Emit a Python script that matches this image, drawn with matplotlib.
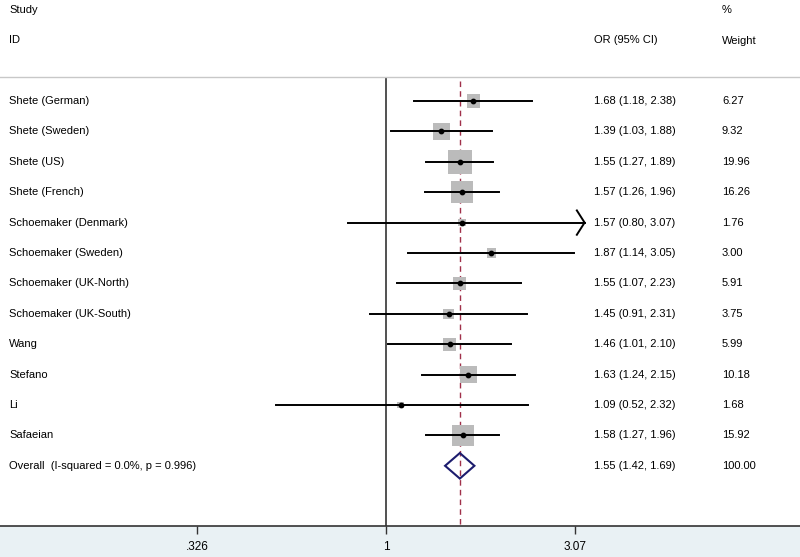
import numpy as np
import matplotlib
matplotlib.use("Agg")
import matplotlib.pyplot as plt
from matplotlib.patches import Rectangle, Polygon

plt.rcParams['font.family'] = ['Liberation Sans', 'DejaVu Sans']
plt.rcParams['text.hinting'] = 'auto'

studies = ["Shete (German)", "Shete (Sweden)", "Shete (US)", "Shete (French)",
           "Schoemaker (Denmark)", "Schoemaker (Sweden)", "Schoemaker (UK-North)",
           "Schoemaker (UK-South)", "Wang", "Stefano", "Li", "Safaeian"]
or_val = [1.68, 1.39, 1.55, 1.57, 1.57, 1.87, 1.55, 1.45, 1.46, 1.63, 1.09, 1.58]
ci_lo = [1.18, 1.03, 1.27, 1.26, 0.80, 1.14, 1.07, 0.91, 1.01, 1.24, 0.52, 1.27]
ci_hi = [2.38, 1.88, 1.89, 1.96, 3.07, 3.05, 2.23, 2.31, 2.10, 2.15, 2.32, 1.96]
weights = [6.27, 9.32, 19.96, 16.26, 1.76, 3.00, 5.91, 3.75, 5.99, 10.18, 1.68, 15.92]
overall_label = "Overall  (I-squared = 0.0%, p = 0.996)"
overall = (1.55, 1.42, 1.69)
xticks = [0.326, 1, 3.07]
xticklabels = [".326", "1", "3.07"]

W, H = 800, 557
fig = plt.figure(figsize=(8, 5.57), dpi=100)
band = Rectangle((0, 0), 1, 31 / H, transform=fig.transFigure,
                 facecolor='#E9F1F4', edgecolor='none', zorder=-5)
fig.patches.append(band)

ax = fig.add_axes([0, 31 / H, 1, (526 - 77) / H])
ax.set_facecolor('white')
ax.set_xscale('log')
x0 = np.exp(-386 / 168.5)
x1 = np.exp((800 - 386) / 168.5)
ax.set_xlim(x0, x1)
row_h = 30.4
ax.set_ylim((526 - 101) / row_h, -(101 - 77) / row_h)

n = len(studies)
rows = np.arange(n)
xclip = 3.25

# null line and overall effect
ax.axvline(1, color='#333333', lw=1.2, zorder=1)
ax.plot([overall[0], overall[0]], [-0.65, 14], color='#A0304A', lw=1.0,
        dashes=(4, 3), zorder=2)

side = 24 * 0.72 * np.sqrt(np.array(weights) / max(weights))
ax.scatter(or_val, rows, marker='s', s=side ** 2, color='#BBBBBB',
           edgecolors='none', zorder=3)

for i in range(n):
    if ci_hi[i] >= 3.07:
        ax.plot([ci_lo[i], xclip], [i, i], color='black', lw=1.4, zorder=4)
        ax.plot([xclip * 0.955, xclip, xclip * 0.955], [i - 0.4, i, i + 0.4],
                color='black', lw=1.4, zorder=4)
    else:
        ax.plot([ci_lo[i], ci_hi[i]], [i, i], color='black', lw=1.4, zorder=4)
ax.scatter(or_val, rows, s=10, color='black', zorder=5)

# overall diamond
oy = n
ax.add_patch(Polygon([(overall[1], oy), (overall[0], oy - 0.42), (overall[2], oy),
                      (overall[0], oy + 0.42)], closed=True, fill=False,
                     edgecolor='#1C1C6E', lw=1.5, zorder=6))

for s in ['left', 'right']:
    ax.spines[s].set_visible(False)
ax.spines['top'].set_color('#C8C8C8')
ax.spines['top'].set_linewidth(1.0)
ax.spines['bottom'].set_color('#333333')
ax.spines['bottom'].set_linewidth(1.2)
ax.set_yticks([])
ax.set_xticks(xticks)
ax.set_xticklabels(xticklabels, fontsize=8.5)
ax.xaxis.set_minor_locator(matplotlib.ticker.NullLocator())
ax.tick_params(axis='x', direction='out', length=6, width=1.0, color='#333333',
               pad=5)

# text columns
fs = 8
trans = ax.get_yaxis_transform()
labels = studies + [overall_label]
or_text = ["%.2f (%.2f, %.2f)" % (o, l, h) for o, l, h in zip(or_val, ci_lo, ci_hi)]
or_text.append("%.2f (%.2f, %.2f)" % overall)
w_text = ["%.2f" % w for w in weights] + ["100.00"]
for i in range(n + 1):
    ax.text(9 / W, i, labels[i], transform=trans, fontsize=fs, va='center', ha='left')
    ax.text(594 / W, i, or_text[i], transform=trans, fontsize=fs, va='center', ha='left')
    ax.text(722 / W, i, w_text[i], transform=trans, fontsize=fs, va='center', ha='left')

fig.text(9 / W, 1 - 10 / H, "Study", fontsize=fs, va='center', ha='left')
fig.text(9 / W, 1 - 40 / H, "ID", fontsize=fs, va='center', ha='left')
fig.text(594 / W, 1 - 40 / H, "OR (95% CI)", fontsize=fs, va='center', ha='left')
fig.text(722 / W, 1 - 10 / H, "%", fontsize=fs, va='center', ha='left')
fig.text(722 / W, 1 - 41 / H, "Weight", fontsize=fs, va='center', ha='left')

fig.savefig("out.png", dpi=100, facecolor='white')
